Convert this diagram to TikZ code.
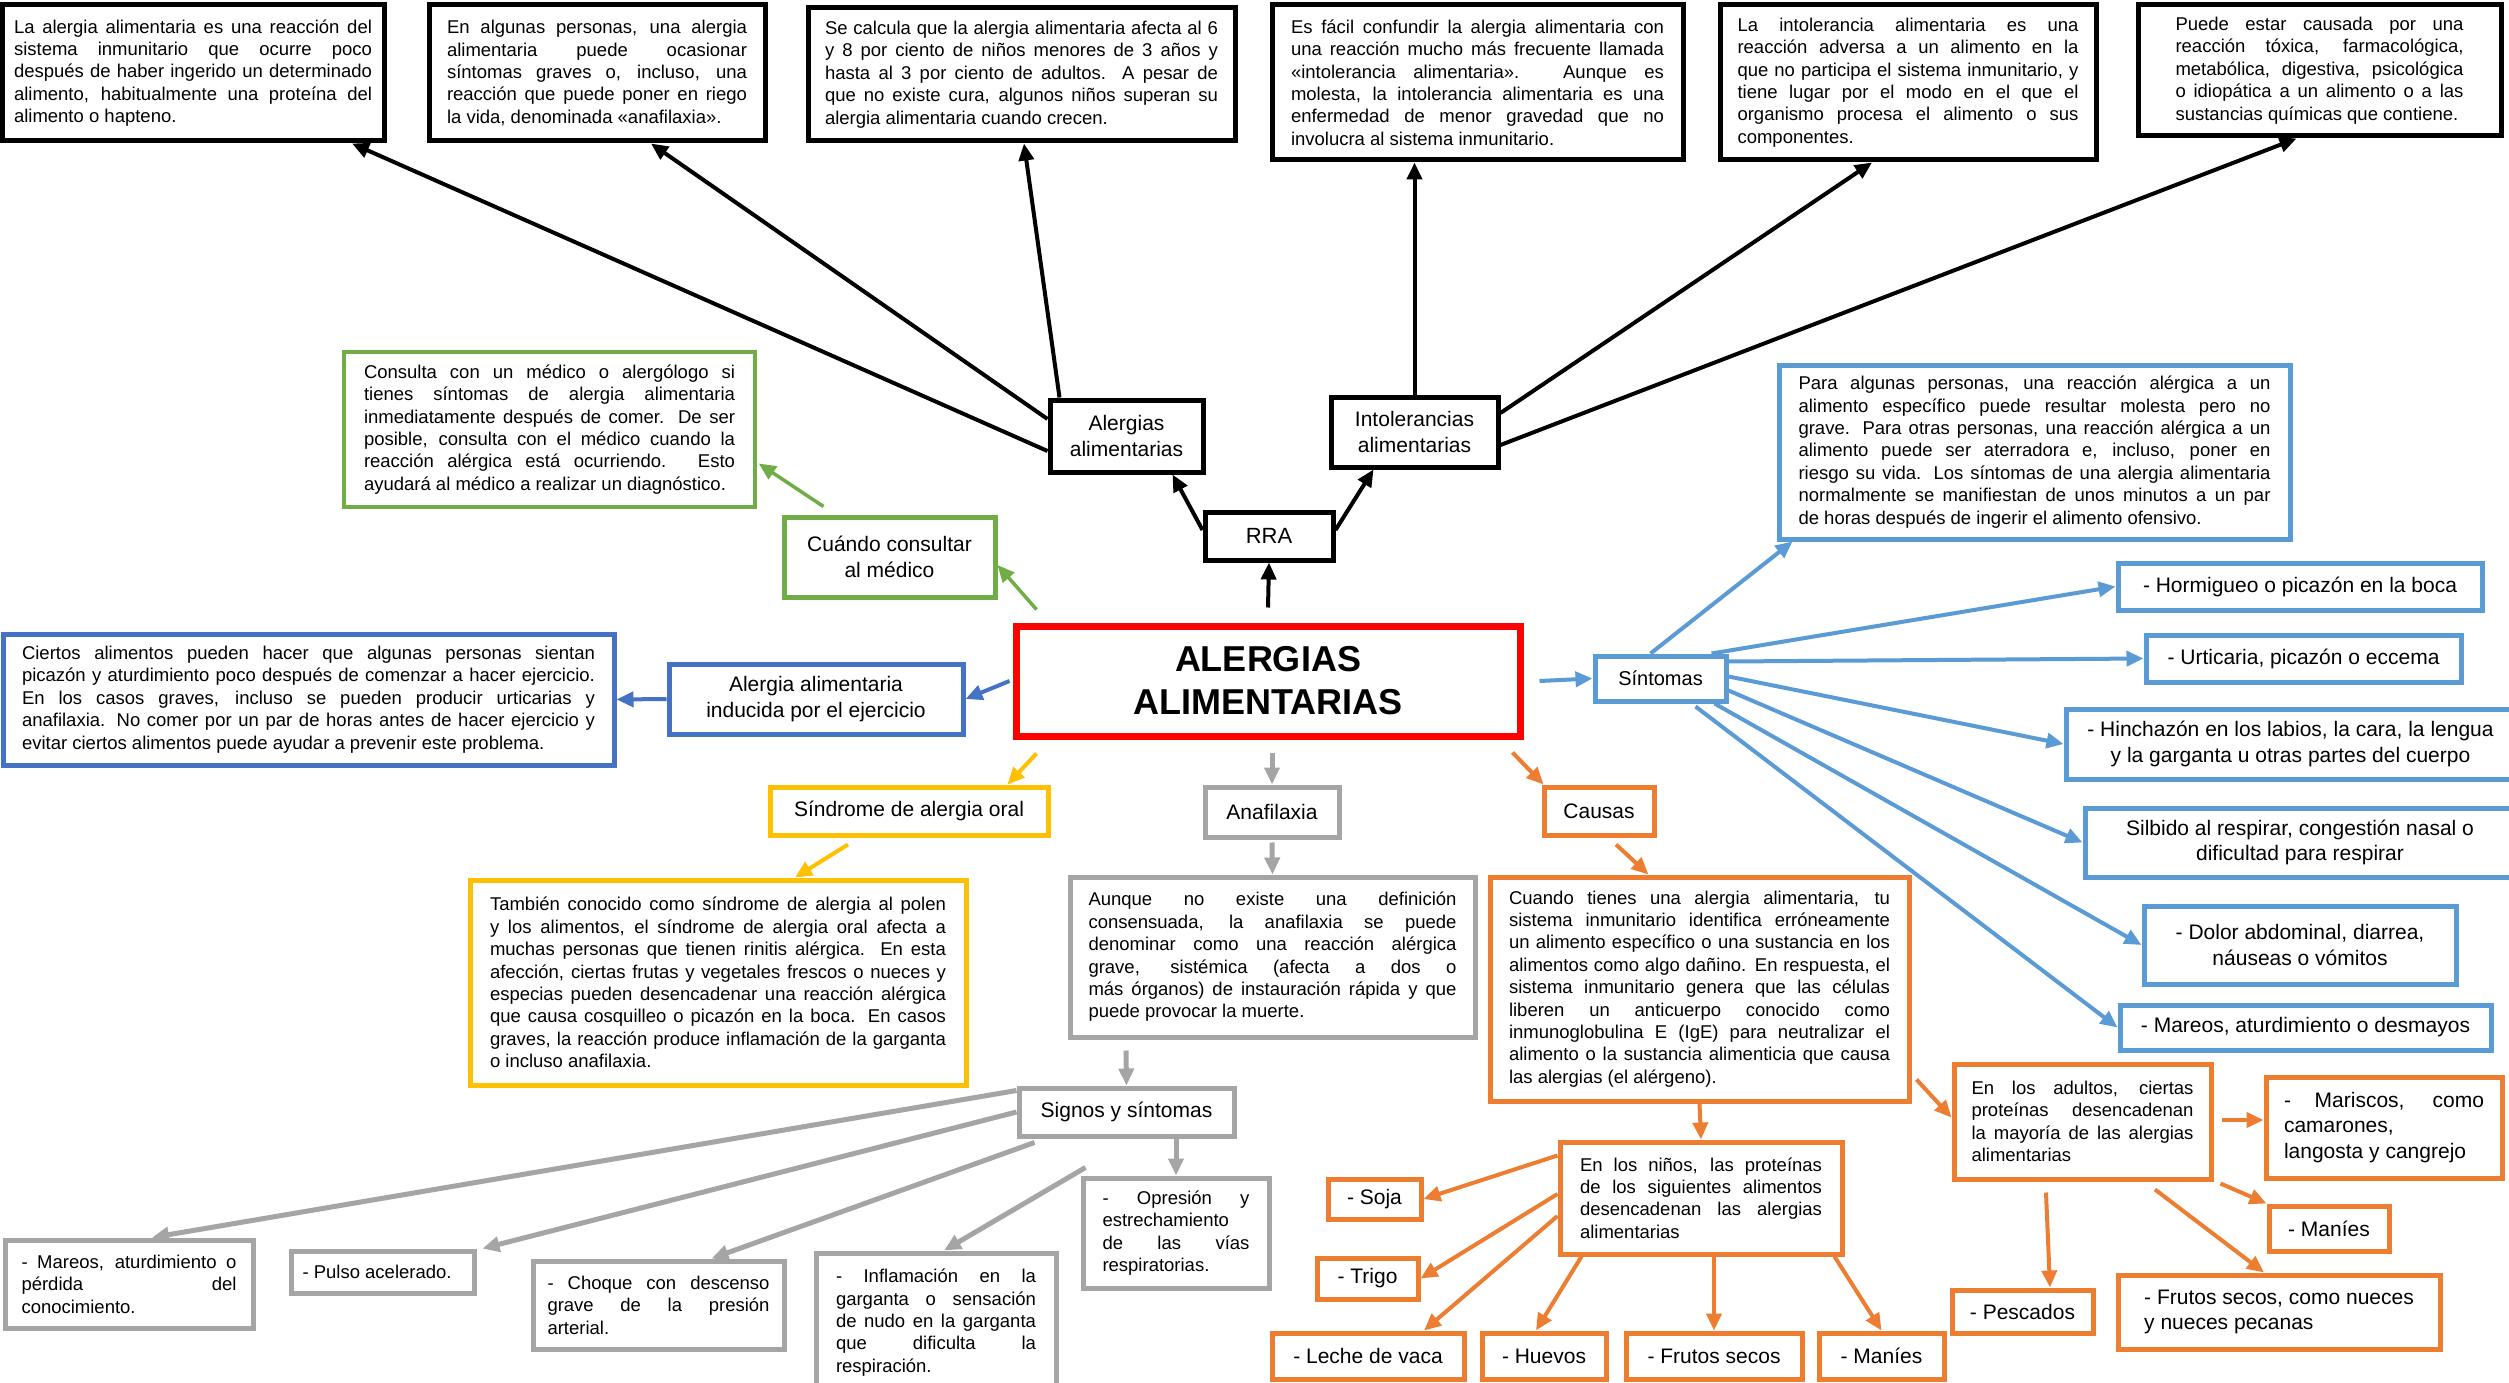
\documentclass[tikz,border=0pt]{standalone}
\usepackage{fontspec}
\setmainfont{Liberation Sans}
\usetikzlibrary{arrows.meta}
\hyphenpenalty=10000
\exhyphenpenalty=10000
\definecolor{cred}{HTML}{FF0000}
\definecolor{cgreen}{HTML}{70AD47}
\definecolor{cdblue}{HTML}{4472C4}
\definecolor{cyellow}{HTML}{FFC000}
\definecolor{cgray}{HTML}{A5A5A5}
\definecolor{clblue}{HTML}{5B9BD5}
\definecolor{corange}{HTML}{ED7D31}
\newcommand\bodyf{\fontsize{18.5}{22.4}\selectfont}
\newcommand\labf{\fontsize{21}{25.6}\selectfont}
\newcommand\titf{\fontsize{36}{43}\selectfont\bfseries}
\begin{document}
\begin{tikzpicture}[x=1pt,y=-1pt,
  bx/.style={draw, line width=4pt, fill=white, inner sep=0pt, align=center, font=\labf},
  tx/.style={bx, align=justify, font=\bodyf},
  tb/.style={tx, draw=black, line width=5pt},
  lb/.style={bx, draw=black, line width=5pt},
  ar/.style={line width=4pt, -{Triangle[length=17pt,width=15pt]}},
  arb/.style={ar, black},
  arg/.style={ar, cgreen, line width=3.5pt},
  ard/.style={ar, cdblue},
  ary/.style={ar, cyellow},
  argr/.style={ar, cgray, line width=5pt},
  arl/.style={ar, clblue},
  aro/.style={ar, corange}]
\useasboundingbox (0,0) rectangle (2509,1383);
\fill[white] (0,0) rectangle (2509,1383);

% ---------- top black boxes ----------
\node[tb, minimum width=382pt, minimum height=136pt, text width=358pt] (b1) at (193,73)
 {La alergia alimentaria es una reacción del\linebreak sistema inmunitario que ocurre poco\linebreak después de haber ingerido un determinado\linebreak alimento, habitualmente una proteína del\linebreak alimento o hapteno.};
\node[tb, minimum width=336pt, minimum height=136pt, text width=300pt] (b2) at (597,73)
 {En algunas personas, una alergia\linebreak alimentaria puede ocasionar\linebreak síntomas graves o, incluso, una\linebreak reacción que puede poner en riego\linebreak la vida, denominada «anafilaxia».};
\node[tb, minimum width=427pt, minimum height=133pt, text width=393pt] (b3) at (1021.5,74.5)
 {Se calcula que la alergia alimentaria afecta al 6\linebreak y 8 por ciento de niños menores de 3 años y\linebreak hasta al 3 por ciento de adultos. A pesar de\linebreak que no existe cura, algunos niños superan su\linebreak alergia alimentaria cuando crecen.};
\node[tb, minimum width=411pt, minimum height=155pt, text width=373pt] (b4) at (1477.5,82.5)
 {Es fácil confundir la alergia alimentaria con\linebreak una reacción mucho más frecuente llamada\linebreak «intolerancia alimentaria». Aunque es\linebreak molesta, la intolerancia alimentaria es una\linebreak enfermedad de menor gravedad que no\linebreak involucra al sistema inmunitario.};
\node[tb, minimum width=376pt, minimum height=155pt, text width=341pt] (b5) at (1908,82.5)
 {La intolerancia alimentaria es una\linebreak reacción adversa a un alimento en la\linebreak que no participa el sistema inmunitario, y\linebreak tiene lugar por el modo en el que el\linebreak organismo procesa el alimento o sus\linebreak componentes.};
\node[tb, minimum width=363pt, minimum height=131pt, text width=288pt] (b6) at (2319.5,70.5)
 {Puede estar causada por una\linebreak reacción tóxica, farmacológica,\linebreak metabólica, digestiva, psicológica\linebreak o idiopática a un alimento o a las\linebreak sustancias químicas que contiene.};

% ---------- middle black ----------
\node[lb, minimum width=153pt, minimum height=72pt] (aa) at (1126.5,436) {Alergias\\alimentarias};
\node[lb, minimum width=167pt, minimum height=70pt] (ia) at (1414.5,432) {Intolerancias\\alimentarias};
\node[lb, minimum width=128pt, minimum height=48pt, font=\fontsize{22}{26}\selectfont] (rra) at (1269,536) {RRA};

% ---------- main ----------
\node[bx, draw=cred, line width=7pt, minimum width=504pt, minimum height=110pt, font=\titf] (main) at (1268,681) {ALERGIAS\\ALIMENTARIAS};

% ---------- green ----------
\node[tx, draw=cgreen, line width=3.5pt, minimum width=411pt, minimum height=155pt, text width=371pt] (ct) at (549.5,429.5)
 {Consulta con un médico o alergólogo si\linebreak tienes síntomas de alergia alimentaria\linebreak inmediatamente después de comer. De ser\linebreak posible, consulta con el médico cuando la\linebreak reacción alérgica está ocurriendo. Esto\linebreak ayudará al médico a realizar un diagnóstico.};
\node[bx, draw=cgreen, line width=5pt, minimum width=211pt, minimum height=80pt] (cq) at (889.5,557) {Cuándo consultar\\al médico};

% ---------- dark blue ----------
\node[bx, draw=cdblue, line width=5pt, minimum width=294pt, minimum height=70pt] (ej) at (816,699) {Alergia alimentaria\\inducida por el ejercicio};
\node[tx, draw=cdblue, line width=5pt, minimum width=611pt, minimum height=131pt, text width=573pt] (et) at (308.5,699.5)
 {Ciertos alimentos pueden hacer que algunas personas sientan\linebreak picazón y aturdimiento poco después de comenzar a hacer ejercicio.\linebreak En los casos graves, incluso se pueden producir urticarias y\linebreak anafilaxia. No comer por un par de horas antes de hacer ejercicio y\linebreak evitar ciertos alimentos puede ayudar a prevenir este problema.};

% ---------- yellow ----------
\node[bx, draw=cyellow, line width=5pt, minimum width=278pt, minimum height=48pt] (so) at (909,811) {Síndrome de alergia oral};
\node[tx, draw=cyellow, line width=5pt, minimum width=496pt, minimum height=205pt, text width=456pt] (st) at (718,982.5)
 {También conocido como síndrome de alergia al polen\linebreak y los alimentos, el síndrome de alergia oral afecta a\linebreak muchas personas que tienen rinitis alérgica. En esta\linebreak afección, ciertas frutas y vegetales frescos o nueces y\linebreak especias pueden desencadenar una reacción alérgica\linebreak que causa cosquilleo o picazón en la boca. En casos\linebreak graves, la reacción produce inflamación de la garganta\linebreak o incluso anafilaxia.};

% ---------- gray ----------
\node[bx, draw=cgray, line width=5pt, minimum width=134pt, minimum height=50pt] (an) at (1272,812) {Anafilaxia};
\node[tx, draw=cgray, line width=5pt, minimum width=405pt, minimum height=160pt, text width=368pt] (at) at (1272.5,957)
 {Aunque no existe una definición\linebreak consensuada, la anafilaxia se puede\linebreak denominar como una reacción alérgica\linebreak grave, sistémica (afecta a dos o\linebreak más órganos) de instauración rápida y que\linebreak puede provocar la muerte.};
\node[bx, draw=cgray, line width=5pt, minimum width=215pt, minimum height=48pt] (sg) at (1126.5,1112) {Signos y síntomas};
\node[tx, draw=cgray, line width=5pt, minimum width=248pt, minimum height=88pt, text width=215pt] (m1) at (129,1284)
 {- Mareos, aturdimiento o\linebreak pérdida del\linebreak conocimiento.};
\node[tx, draw=cgray, line width=5pt, minimum width=183pt, minimum height=42pt, text width=160pt] (m2) at (382.5,1272)
 {- Pulso acelerado.};
\node[tx, draw=cgray, line width=5pt, minimum width=251pt, minimum height=88pt, text width=222pt] (m3) at (658.5,1305)
 {- Choque con descenso\linebreak grave de la presión\linebreak arterial.};
\node[tx, draw=cgray, line width=5pt, minimum width=240pt, minimum height=139pt, text width=200pt] (m4) at (936,1322.5)
 {- Inflamación en la\linebreak garganta o sensación\linebreak de nudo en la garganta\linebreak que dificulta la\linebreak respiración.};
\node[tx, draw=cgray, line width=5pt, minimum width=186pt, minimum height=110pt, text width=147pt] (m5) at (1176,1233)
 {- Opresión y\linebreak estrechamiento\linebreak de las vías\linebreak respiratorias.};

% ---------- light blue ----------
\node[bx, draw=clblue, line width=5pt, minimum width=131pt, minimum height=45pt, font=\fontsize{20}{24}\selectfont] (si) at (1660.5,678.5) {Síntomas};
\node[tx, draw=clblue, line width=5pt, minimum width=511pt, minimum height=174pt, text width=472pt] (bt) at (2034.5,452)
 {Para algunas personas, una reacción alérgica a un\linebreak alimento específico puede resultar molesta pero no\linebreak grave. Para otras personas, una reacción alérgica a un\linebreak alimento puede ser aterradora e, incluso, poner en\linebreak riesgo su vida. Los síntomas de una alergia alimentaria\linebreak normalmente se manifiestan de unos minutos a un par\linebreak de horas después de ingerir el alimento ofensivo.};
\node[bx, draw=clblue, line width=5pt, minimum width=364pt, minimum height=47pt] (s1) at (2300,586.5) {- Hormigueo o picazón en la boca};
\node[bx, draw=clblue, line width=5pt, minimum width=315pt, minimum height=47pt] (s2) at (2303.5,658.5) {- Urticaria, picazón o eccema};
\node[bx, draw=clblue, line width=5pt, minimum width=449pt, minimum height=70pt] (s3) at (2290.5,744) {- Hinchazón en los labios, la cara, la lengua\\y la garganta u otras partes del cuerpo};
\node[bx, draw=clblue, line width=5pt, minimum width=430pt, minimum height=69pt] (s4) at (2300,842.5) {Silbido al respirar, congestión nasal o\\dificultad para respirar};
\node[bx, draw=clblue, line width=5pt, minimum width=312pt, minimum height=78pt] (s5) at (2300,945) {- Dolor abdominal, diarrea,\\náuseas o vómitos};
\node[bx, draw=clblue, line width=5pt, minimum width=371pt, minimum height=45pt] (s6) at (2305.5,1027.5) {- Mareos, aturdimiento o desmayos};

% ---------- orange ----------
\node[bx, draw=corange, line width=5pt, minimum width=110pt, minimum height=48pt] (ca) at (1599,811) {Causas};
\node[tx, draw=corange, line width=5pt, minimum width=419pt, minimum height=224pt, text width=381pt] (cx) at (1699.5,989)
 {Cuando tienes una alergia alimentaria, tu\linebreak sistema inmunitario identifica erróneamente\linebreak un alimento específico o una sustancia en los\linebreak alimentos como algo dañino. En respuesta, el\linebreak sistema inmunitario genera que las células\linebreak liberen un anticuerpo conocido como\linebreak inmunoglobulina E (IgE) para neutralizar el\linebreak alimento o la sustancia alimenticia que causa\linebreak las alergias (el alérgeno).};
\node[tx, draw=corange, line width=5pt, minimum width=282pt, minimum height=112pt, text width=242pt] (ni) at (1701,1198)
 {En los niños, las proteínas\linebreak de los siguientes alimentos\linebreak desencadenan las alergias\linebreak alimentarias};
\node[bx, draw=corange, line width=5pt, minimum width=93pt, minimum height=40pt] (o1) at (1374.5,1199) {- Soja};
\node[bx, draw=corange, line width=5pt, minimum width=101pt, minimum height=41pt] (o2) at (1367.5,1278.5) {- Trigo};
\node[bx, draw=corange, line width=5pt, minimum width=192pt, minimum height=46pt] (o3) at (1368,1356) {- Leche de vaca};
\node[bx, draw=corange, line width=5pt, minimum width=124pt, minimum height=46pt] (o4) at (1544,1356) {- Huevos};
\node[bx, draw=corange, line width=5pt, minimum width=176pt, minimum height=46pt] (o5) at (1714,1356) {- Frutos secos};
\node[bx, draw=corange, line width=5pt, minimum width=125pt, minimum height=46pt] (o6) at (1881.5,1356) {- Maníes};
\node[tx, draw=corange, line width=5pt, minimum width=257pt, minimum height=115pt, text width=222pt] (ad) at (2082.5,1121.5)
 {En los adultos, ciertas\linebreak proteínas desencadenan\linebreak la mayoría de las alergias\linebreak alimentarias};
\node[bx, draw=corange, line width=5pt, minimum width=236pt, minimum height=101pt, text width=200pt, align=justify] (o7) at (2384,1127.5)
 {- Mariscos, como\linebreak camarones,\linebreak langosta y cangrejo};
\node[bx, draw=corange, line width=5pt, minimum width=120pt, minimum height=45pt] (o8) at (2329,1228.5) {- Maníes};
\node[bx, draw=corange, line width=5pt, minimum width=322pt, minimum height=74pt, align=left] (o9) at (2279,1312) {- Frutos secos, como nueces\\y nueces pecanas};
\node[bx, draw=corange, line width=5pt, minimum width=141pt, minimum height=43pt] (o10) at (2022.5,1311.5) {- Pescados};

% ---------- black connectors ----------
\draw[arb] ([yshift=-15pt]aa.west) -- ([xshift=159pt]b1.south);
\draw[arb] ([yshift=17pt]aa.west) -- ([xshift=54pt]b2.south);
\draw[arb] ([xshift=12pt]aa.north west) -- ([xshift=2.5pt]b3.south);
\draw[arb] (ia.north) -- ([xshift=-63pt]b4.south);
\draw[arb] ([yshift=19pt]ia.east) -- ([xshift=-36pt]b5.south);
\draw[arb] ([yshift=-13pt]ia.east) -- ([xshift=-23pt]b6.south);
\draw[arb] ([yshift=6pt]rra.west) -- ([xshift=46pt]aa.south);
\draw[arb] ([yshift=6pt]rra.east) -- ([xshift=-41pt]ia.south);
\draw[arb] ([yshift=15pt]main.north) -- (rra.south);

% ---------- green connectors ----------
\draw[arg] ([xshift=24pt,yshift=13pt]main.north west) -- ([yshift=-8pt]cq.east);
\draw[arg] ([xshift=42pt,yshift=8pt]cq.north west) -- ([xshift=2pt,yshift=-34pt]ct.east);

% ---------- dark blue connectors ----------
\draw[ard] ([xshift=-3pt]main.west) -- (ej.east);
\draw[ard] (ej.west) -- (et.east);

% ---------- yellow connectors ----------
\draw[ary] ([xshift=24pt,yshift=-14pt]main.south west) -- ([xshift=-43pt]so.north east);
\draw[ary] ([xshift=-61pt,yshift=-7pt]so.south) -- ([xshift=77pt]st.north);

% ---------- gray connectors ----------
\draw[argr] ([xshift=4pt,yshift=-13pt]main.south) -- (an.north);
\draw[argr] ([yshift=-3pt]an.south) -- (at.north);
\draw[argr] ([xshift=-146.5pt,yshift=-11pt]at.south) -- (sg.north);
\draw[argr] ([yshift=-5pt]sg.north west) -- ([xshift=23pt]m1.north);
\draw[argr] (sg.west) -- ([xshift=6pt]m2.north east);
\draw[argr] ([xshift=18pt,yshift=-4pt]sg.south west) -- ([xshift=53pt]m3.north);
\draw[argr] ([xshift=-41pt,yshift=-29pt]sg.south) -- ([xshift=8pt]m4.north);
\draw[argr] ([xshift=49.5pt]sg.south) -- (m5.north);

% ---------- light blue connectors ----------
\draw[arl] ([xshift=16pt]main.east) -- (si.west);
\draw[arl] ([xshift=-10pt]si.north) -- ([xshift=16pt]bt.south west);
\draw[arl] ([xshift=-17pt]si.north east) -- (s1.west);
\draw[arl] ([yshift=17pt]si.east) -- (s2.west);
\draw[arl] ([yshift=2pt]si.east) -- (s3.west);
\draw[arl] ([yshift=-12pt]si.east) -- (s4.west);
\draw[arl] ([xshift=-14pt]si.south east) -- (s5.west);
\draw[arl] ([xshift=-33pt,yshift=-3pt]si.south east) -- (s6.west);

% ---------- orange connectors ----------
\draw[aro] ([xshift=-11pt,yshift=-13pt]main.south east) -- ([xshift=2pt]ca.north west);
\draw[aro] ([xshift=17pt,yshift=-7pt]ca.south) -- ([xshift=-51pt]cx.north);
\draw[aro] (cx.south) -- (ni.north);
\draw[aro] ([yshift=-16pt]ni.north west) -- (o1.east);
\draw[aro] ([yshift=4pt]ni.west) -- (o2.east);
\draw[aro] ([yshift=-18pt]ni.west) -- ([xshift=56pt]o3.north);
\draw[aro] ([xshift=24pt]ni.south west) -- ([xshift=-8pt]o4.north);
\draw[aro] ([xshift=13pt]ni.south) -- (o5.north);
\draw[aro] ([xshift=-10pt]ni.south east) -- (o6.north);
\draw[aro] ([xshift=5pt,yshift=24pt]cx.south east) -- ([yshift=4pt]ad.west);
\draw[aro] ([xshift=8pt,yshift=1.5pt]ad.east) -- ([yshift=7.5pt]o7.west);
\draw[aro] ([xshift=7pt,yshift=-2pt]ad.south east) -- (o8.north west);
\draw[aro] ([xshift=72.5pt,yshift=-8pt]ad.south) -- ([xshift=-15pt]o9.north);
\draw[aro] ([xshift=-36.5pt,yshift=-11pt]ad.south) -- ([xshift=27.5pt]o10.north);
\end{tikzpicture}
\end{document}
